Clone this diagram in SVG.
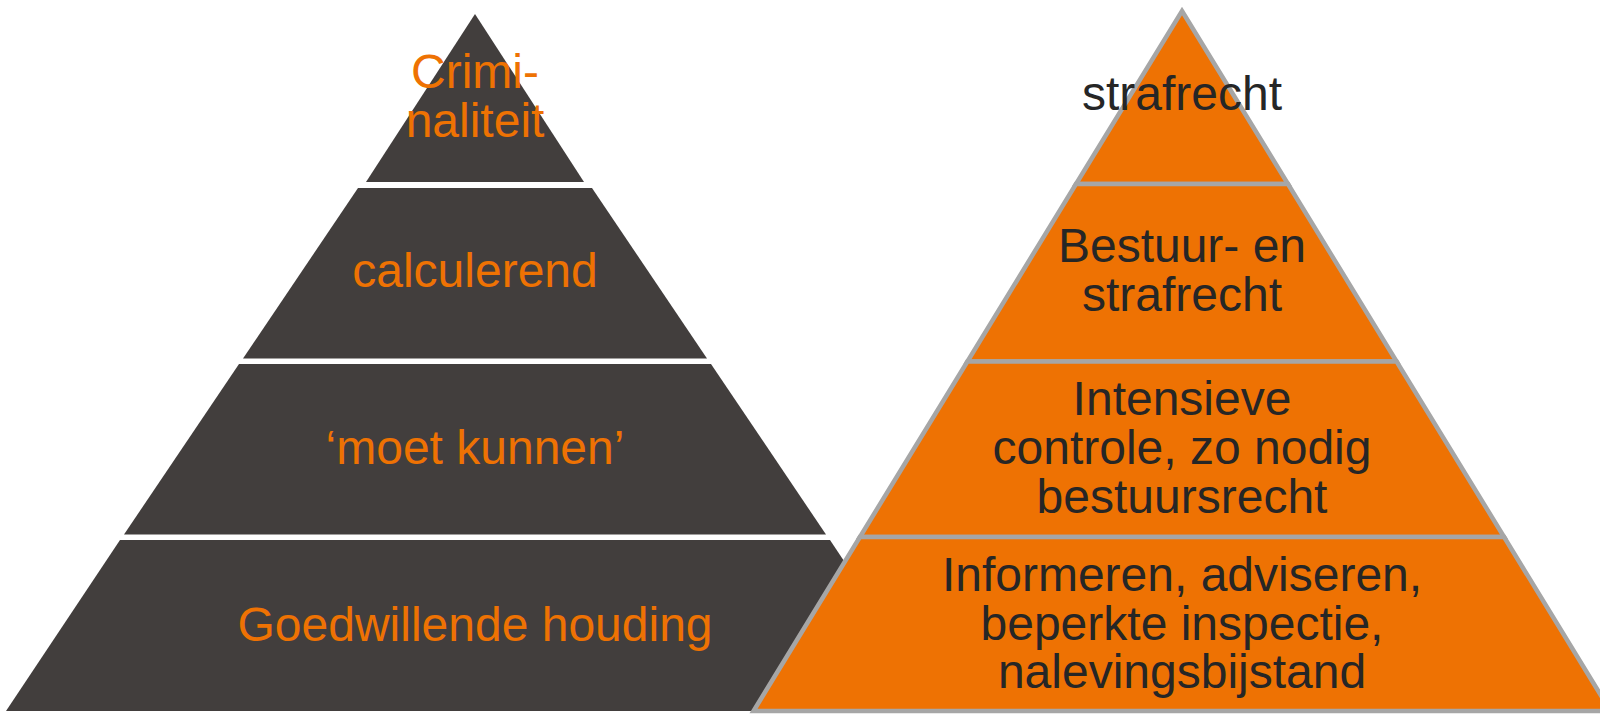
<svg xmlns="http://www.w3.org/2000/svg" width="1600" height="714" viewBox="0 0 1600 714">
  <style>
    .dark { fill: #423E3D; stroke: none; }
    .orange { fill: #EE7203; stroke: #A6A6A6; stroke-width: 4.5; stroke-linejoin: miter; }
    text { font-family: "Liberation Sans", Arial, sans-serif; font-size: 48px; text-anchor: middle; }
    .lt { fill: #EE7203; }
    .rt { fill: #262626; }
  </style>
  <rect x="0" y="0" width="1600" height="714" fill="#FFFFFF"/>

  <g id="left-pyramid">
    <g id="left-layer-1">
      <polygon class="dark" points="475,14 584,182 366,182"/>
      <text class="lt" x="475" y="88">Crimi-</text>
      <text class="lt" x="475" y="137">naliteit</text>
    </g>
    <g id="left-layer-2">
      <polygon class="dark" points="358,188 592,188 707,358.5 243,358.5"/>
      <text class="lt" x="475" y="287">calculerend</text>
    </g>
    <g id="left-layer-3">
      <polygon class="dark" points="239,364 711,364 826,534.5 124,534.5"/>
      <text class="lt" x="475" y="464">‘moet kunnen’</text>
    </g>
    <g id="left-layer-4">
      <polygon class="dark" points="120,540 830,540 944,711 6,711"/>
      <text class="lt" x="475" y="641">Goedwillende houding</text>
    </g>
  </g>

  <g id="right-pyramid">
    <g id="right-layer-1">
      <polygon class="orange" points="1182,11 1288,184 1076,184"/>
      <text class="rt" x="1182" y="110">strafrecht</text>
    </g>
    <g id="right-layer-2">
      <polygon class="orange" points="1076,184 1288,184 1396.6,361.5 967.4,361.5"/>
      <text class="rt" x="1182" y="262">Bestuur- en</text>
      <text class="rt" x="1182" y="311">strafrecht</text>
    </g>
    <g id="right-layer-3">
      <polygon class="orange" points="967.4,361.5 1396.6,361.5 1504.1,537 859.9,537"/>
      <text class="rt" x="1182" y="415">Intensieve</text>
      <text class="rt" x="1182" y="463.5">controle, zo nodig</text>
      <text class="rt" x="1182" y="513">bestuursrecht</text>
    </g>
    <g id="right-layer-4">
      <polygon class="orange" points="859.9,537 1504.1,537 1610.5,711 753.5,711"/>
      <text class="rt" x="1182" y="591">Informeren, adviseren,</text>
      <text class="rt" x="1182" y="640">beperkte inspectie,</text>
      <text class="rt" x="1182" y="688">nalevingsbijstand</text>
    </g>
  </g>

  <g id="connectors"/>
</svg>
